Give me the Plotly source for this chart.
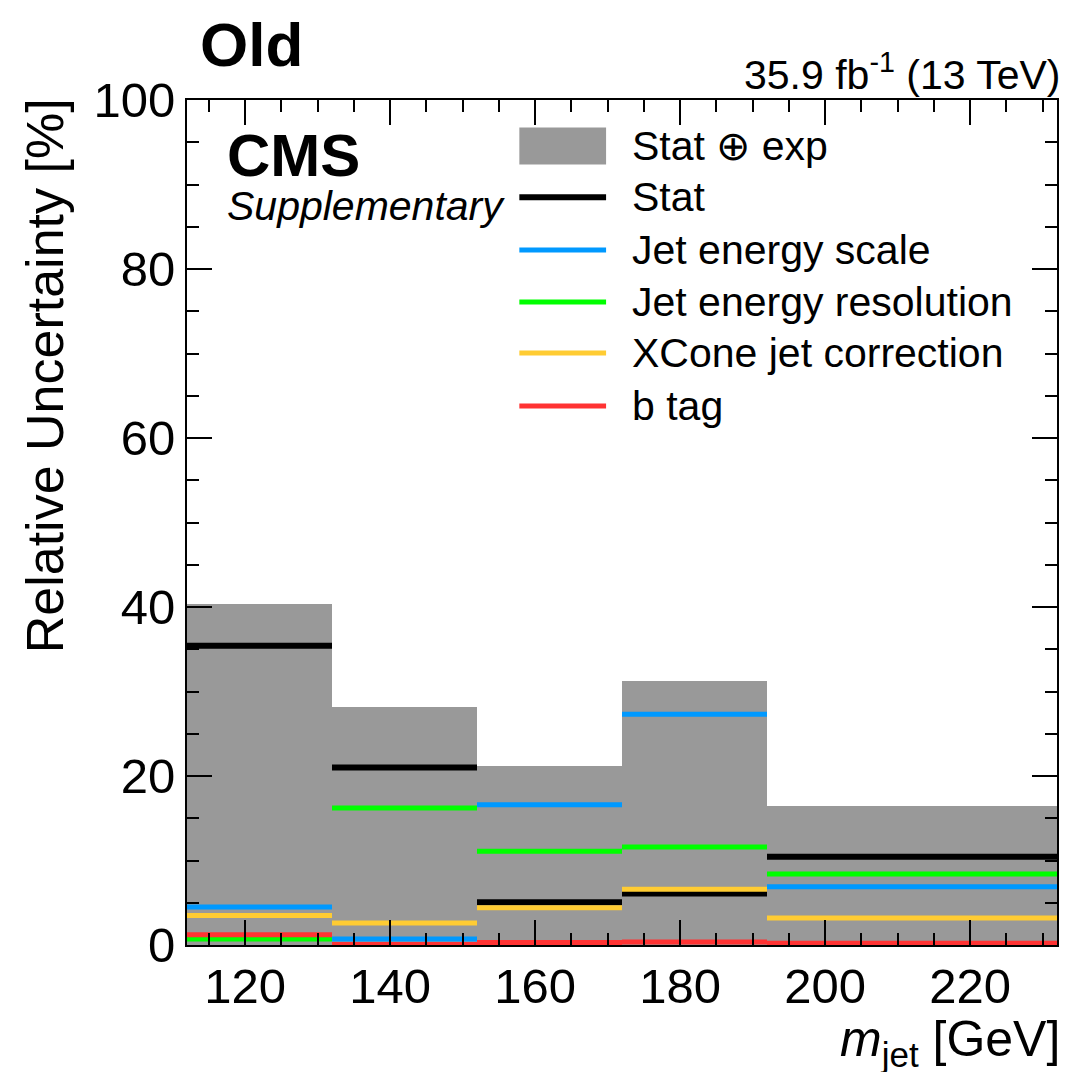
import plotly.graph_objects as go

# ---- data ----
bin_edges = [112, 132, 152, 172, 192, 232]
total = [40.4, 28.2, 21.2, 31.2, 16.5]          # Stat (+) exp
stat = [35.4, 21.0, 5.05, 6.1, 10.45]
jes = [4.5, 0.7, 16.6, 27.3, 6.9]
jer = [0.7, 16.2, 11.1, 11.6, 8.4]
xcone = [3.5, 2.6, 4.4, 6.6, 3.2]
btag = [1.2, 0.05, 0.3, 0.35, 0.2]

series_names = ["Stat", "Jet energy scale", "Jet energy resolution", "XCone jet correction", "b tag"]
series_values = [stat, jes, jer, xcone, btag]
series_colors = ["#000000", "#0099ff", "#00ff00", "#ffcc33", "#ff3333"]
band_name = "Stat \u2295 exp"
band_color = "#999999"

x_ticks = [120, 140, 160, 180, 200, 220]
y_ticks = [0, 20, 40, 60, 80, 100]

FONT = "Liberation Sans, Arial, Helvetica, sans-serif"

fig = go.Figure()

lows = bin_edges[:-1]
highs = bin_edges[1:]
centers = [(a + b) / 2 for a, b in zip(lows, highs)]
widths = [b - a for a, b in zip(lows, highs)]
fig.add_trace(go.Bar(x=centers, y=total, width=widths, marker=dict(color=band_color, line=dict(width=0)),
                     name=band_name, showlegend=False))

for name, vals, col in zip(series_names, series_values, series_colors):
    xs, ys = [], []
    for a, b, v in zip(lows, highs, vals):
        xs += [a, b, None]
        ys += [v, v, None]
    fig.add_trace(go.Scatter(x=xs, y=ys, mode="lines", connectgaps=False,
                             line=dict(color=col, width=6 if name == "Stat" else 5),
                             name=name, showlegend=False))

# ---- manual legend (paper coords) ----
leg_x0, leg_x1, leg_tx = 0.382, 0.4817, 0.509
leg_y = [0.9456, 0.885, 0.8225, 0.761, 0.7006, 0.638]
shapes = [dict(type="rect", xref="paper", yref="paper", x0=leg_x0, x1=leg_x1,
               y0=leg_y[0] - 0.0219, y1=leg_y[0] + 0.0219, fillcolor=band_color, line=dict(width=0))]
annotations = [dict(xref="paper", yref="paper", x=leg_tx, y=leg_y[0], text=band_name, showarrow=False,
                    xanchor="left", yanchor="middle", font=dict(size=41, family=FONT, color="black"))]
for i, (name, col) in enumerate(zip(series_names, series_colors)):
    yy = leg_y[i + 1]
    shapes.append(dict(type="line", xref="paper", yref="paper", x0=leg_x0, x1=leg_x1, y0=yy, y1=yy,
                       line=dict(color=col, width=6 if name == "Stat" else 5)))
    annotations.append(dict(xref="paper", yref="paper", x=leg_tx, y=yy, text=name, showarrow=False,
                            xanchor="left", yanchor="middle", font=dict(size=41, family=FONT, color="black")))

annotations += [
    dict(xref="paper", yref="paper", x=0.0126, y=1.066, text="<b>Old</b>", showarrow=False,
         xanchor="left", yanchor="middle", font=dict(size=62, family=FONT, color="black")),
    dict(xref="paper", yref="paper", x=0.0436, y=0.934, text="<b>CMS</b>", showarrow=False,
         xanchor="left", yanchor="middle", font=dict(size=60, family=FONT, color="black")),
    dict(xref="paper", yref="paper", x=0.0436, y=0.874, text="<i>Supplementary</i>", showarrow=False,
         xanchor="left", yanchor="middle", font=dict(size=41, family=FONT, color="black")),
    dict(xref="paper", yref="paper", x=1.007, y=1.033, text="35.9 fb<sup>-1</sup> (13 TeV)", showarrow=False,
         xanchor="right", yanchor="middle", font=dict(size=41, family=FONT, color="black")),
    dict(xref="paper", yref="paper", x=1.006, y=-0.1155, text="<i>m</i><sub>jet</sub> [GeV]", showarrow=False,
         xanchor="right", yanchor="middle", font=dict(size=50, family=FONT, color="black")),
    dict(xref="paper", yref="paper", x=-0.163, y=1.004, text="Relative Uncertainty [%]", showarrow=False,
         textangle=-90, xanchor="center", yanchor="top", font=dict(size=52, family=FONT, color="black")),
]

axis_common = dict(showline=True, linecolor="black", linewidth=2, mirror="ticks", ticks="inside",
                   tickcolor="black", tickwidth=2, ticklen=25, showgrid=False, zeroline=False,
                   tickfont=dict(size=49, family=FONT, color="black"))

fig.update_layout(
    width=1059, height=1064,
    margin=dict(l=179, r=8, t=92, b=127),
    paper_bgcolor="white", plot_bgcolor="white",
    showlegend=False, bargap=0,
    shapes=shapes, annotations=annotations,
    xaxis=dict(range=[bin_edges[0], bin_edges[-1]], tickvals=x_ticks, ticklabelstandoff=-3,
               minor=dict(dtick=5, tick0=0, ticks="inside", ticklen=12, tickwidth=2, tickcolor="black"),
               **axis_common),
    yaxis=dict(range=[0, 100], tickvals=y_ticks,
               minor=dict(dtick=5, tick0=0, ticks="inside", ticklen=12, tickwidth=2, tickcolor="black"),
               **axis_common),
)

fig.write_html("out.html")
